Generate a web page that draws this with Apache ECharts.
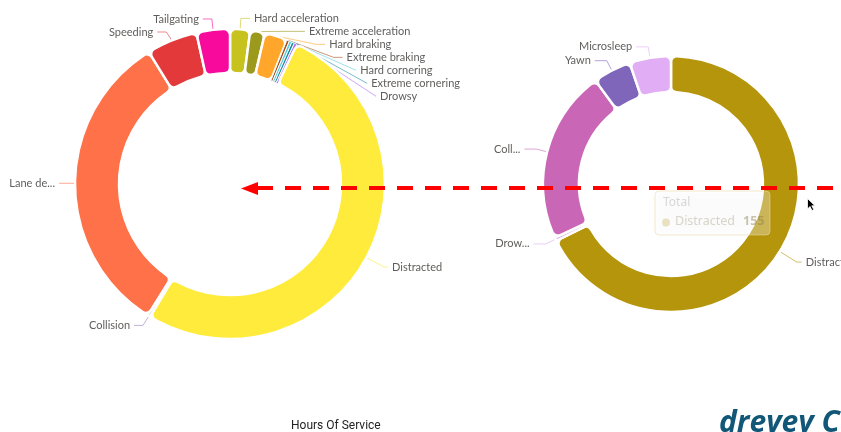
<!DOCTYPE html>
<html>
<head>
<meta charset="utf-8">
<script src="https://cdn.jsdelivr.net/npm/echarts@6/dist/echarts.min.js"></script>
<style>
html,body{margin:0;padding:0;background:#fff;}
#chart{width:841px;height:432px;}
</style>
</head>
<body>
<div id="chart"></div>
<script>
// ---- Left donut (event types) ----
const leftNames  = ['Hard acceleration','Extreme acceleration','Hard braking','Extreme braking','Hard cornering','Extreme cornering','Drowsy','Distracted','Collision','Lane departure','Speeding','Tailgating'];
const leftLabels = ['Hard acceleration','Extreme acceleration','Hard braking','Extreme braking','Hard cornering','Extreme cornering','Drowsy','Distracted','Collision','Lane de...','Speeding','Tailgating'];
const leftValues = [15, 11, 17, 2, 2, 2, 2, 370, 2, 232, 38, 25];
const leftColors = ['#C8C21F','#9B9A1C','#FFA62B','#A8521C','#5CCDE0','#1C8EA6','#B070F0','#FFEB3B','#A27CC0','#FF7148','#E3393A','#F70A9C'];
const leftThin   = ['Extreme braking','Hard cornering','Extreme cornering','Drowsy'];

// ---- Right donut (fatigue / distraction) ----
const rightNames  = ['Distracted','Drowsy','Collision','Yawn','Microsleep'];
const rightLabels = ['Distracted','Drow...','Coll...','Yawn','Microsleep'];
const rightValues = [155, 1, 50, 11, 12];
const rightColors = ['#B5950B','#D9AEEE','#C967B6','#7F66BB','#E1AEF6'];
const rightThin   = [];

function buildData(names, labels, values, colors, thin, extra){
  return names.map((n, i) => {
    const item = {
      name: n,
      value: values[i],
      itemStyle: { color: colors[i], borderWidth: thin.indexOf(n) >= 0 ? 1 : 2.5 },
      label: { formatter: labels[i] }
    };
    if (extra && extra[n]) item.labelLine = extra[n];
    return item;
  });
}

const labelStyle = {
  show: true,
  color: '#605E5C',
  fontFamily: 'Lato, "Noto Sans", sans-serif',
  fontSize: 11,
  lineHeight: 10,
  overflow: 'none',
  distanceToLabelLine: 4
};

const chart = echarts.init(document.getElementById('chart'), null, {renderer: 'canvas'});
chart.setOption({
  animation: false,
  backgroundColor: '#ffffff',
  series: [
    {
      type: 'pie',
      center: [230, 184],
      radius: [111, 155],
      startAngle: 90,
      clockwise: true,
      avoidLabelOverlap: true,
      itemStyle: { borderColor: '#ffffff', borderWidth: 2.5, borderRadius: 6 },
      label: labelStyle,
      labelLine: { show: true, length: 11, length2: 9, lineStyle: { width: 1, opacity: 0.6 } },
      emphasis: { disabled: true },
      data: buildData(leftNames, leftLabels, leftValues, leftColors, leftThin,
                      { 'Extreme acceleration': { length2: 13 },
                        'Distracted': { length: 20, length2: 4 } })
    },
    {
      type: 'pie',
      center: [671, 184],
      radius: [92, 128],
      startAngle: 90,
      clockwise: true,
      avoidLabelOverlap: true,
      itemStyle: { borderColor: '#ffffff', borderWidth: 2.5, borderRadius: 6 },
      label: labelStyle,
      labelLine: { show: true, length: 11, length2: 12, lineStyle: { width: 1, opacity: 0.6 } },
      emphasis: { disabled: true },
      data: buildData(rightNames, rightLabels, rightValues, rightColors, rightThin,
                      { 'Distracted': { length: 20, length2: 5 } })
    }
  ],
  graphic: [
    // faded tooltip left over from hover
    { type: 'rect', z: 50, shape: { x: 655, y: 191, width: 115, height: 44, r: 4 },
      style: { fill: 'rgba(255,255,255,0.32)', stroke: 'rgba(235,220,170,0.55)', lineWidth: 1,
               shadowBlur: 6, shadowColor: 'rgba(0,0,0,0.06)' } },
    { type: 'text', z: 51, x: 663, y: 197, style: { text: 'Total', fill: 'rgba(170,170,170,0.45)', font: '12px "Noto Sans", sans-serif' } },
    { type: 'circle', z: 51, shape: { cx: 666, cy: 222.5, r: 4 }, style: { fill: 'rgba(200,180,90,0.35)' } },
    { type: 'text', z: 51, x: 675, y: 215, style: { text: 'Distracted', fill: 'rgba(170,165,140,0.45)', font: '12.5px "Noto Sans", sans-serif' } },
    { type: 'text', z: 51, x: 743, y: 215, style: { text: '155', fill: 'rgba(140,125,70,0.45)', font: 'bold 12.5px "Noto Sans", sans-serif' } },
    // red dashed arrow
    { type: 'line', z: 100, shape: { x1: 257, y1: 188, x2: 845, y2: 188 },
      style: { stroke: '#FF0000', lineWidth: 4, lineDash: [16, 12] } },
    { type: 'polygon', z: 100, shape: { points: [[241, 188.5], [258, 182], [258, 195]] },
      style: { fill: '#FF0000' } },
    // mouse cursor
    { type: 'polygon', z: 110, shape: { points: [[807.5,198.5],[807.5,209],[810,206.5],[812,210.5],[813.8,209.6],[811.8,205.8],[815,205.8]] },
      style: { fill: '#000000', stroke: '#ffffff', lineWidth: 0.8 } },
    // footer texts
    { type: 'text', z: 20, x: 291, y: 420, style: { text: 'Hours Of Service', fill: '#252423', font: '12px Roboto, sans-serif' } },
    { type: 'text', z: 20, x: 719, y: 408, style: { text: 'drevey C', fill: '#125777', font: 'italic bold 30px "Open Sans", sans-serif' } }
  ]
});
</script>
</body>
</html>
